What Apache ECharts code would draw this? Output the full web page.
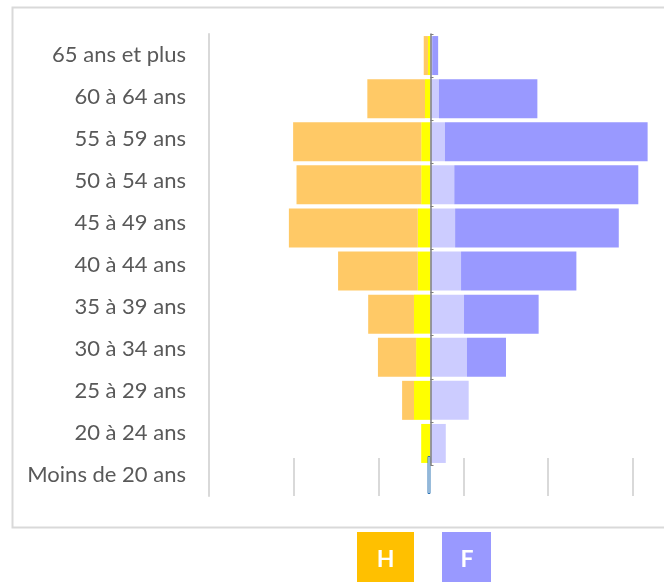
<!DOCTYPE html>
<html>
<head>
<meta charset="utf-8">
<title>Pyramide des âges</title>
<script src="https://cdn.jsdelivr.net/npm/echarts@6/dist/echarts.min.js"></script>
<style>
    html, body { margin: 0; padding: 0; background: #fff; }
    #chart { width: 664px; height: 582px; }
</style>
</head>
<body>
<div id="chart"></div>
<script>
// tranches d'âge (haut -> bas)
var ageLabels = ['65 ans et plus', '60 à 64 ans', '55 à 59 ans', '50 à 54 ans', '45 à 49 ans',
    '40 à 44 ans', '35 à 39 ans', '30 à 34 ans', '25 à 29 ans', '20 à 24 ans', 'Moins de 20 ans'];
var pyramidAges = ['65 ans et plus', '60 à 64 ans', '55 à 59 ans', '50 à 54 ans', '45 à 49 ans',
    '40 à 44 ans', '35 à 39 ans', '30 à 34 ans', '25 à 29 ans', '20 à 24 ans'];

// hommes : partie intérieure (jaune) et extérieure (orange)
var hInner = [0.3, 0.65, 1.1, 1.1, 1.5, 1.5, 1.95, 1.7, 1.95, 1.1];
var hOuter = [0.5, 6.8, 15.1, 14.7, 15.2, 9.4, 5.4, 4.5, 1.4, 0];
// femmes : partie intérieure (lavande) et extérieure (violet)
var fInner = [0.2, 1.0, 1.7, 2.8, 2.9, 3.6, 3.95, 4.3, 4.5, 1.8];
var fOuter = [0.7, 11.6, 23.9, 21.7, 19.3, 13.6, 8.8, 4.6, 0, 0];
// moins de 20 ans (presque rien)
var moinsDe20 = -0.35;
var legendNames = ['H', 'F'];

var chart = echarts.init(document.getElementById('chart'), null, { renderer: 'canvas' });

function neg(arr) {
    return arr.map(function (v) { return -v; });
}

var barStyle = {
    type: 'bar',
    xAxisIndex: 2,
    yAxisIndex: 1,
    barWidth: 39,
    barGap: '-100%'
};

function pyramidSerie(name, stack, data, color) {
    return echarts.util.extend({
        name: name,
        stack: stack,
        data: data,
        itemStyle: { color: color }
    }, barStyle);
}

var option = {
    animation: false,
    backgroundColor: '#fff',
    grid: [
        { left: 209, top: 34, width: 424, height: 462 },   // libellés + repères du bas
        { left: 209, top: 34, width: 451, height: 431 }    // pyramide
    ],
    xAxis: [
        { type: 'value', gridIndex: 0, min: -26.12, max: 23.88, show: false },
        {
            type: 'value', gridIndex: 0, min: 0, max: 5, interval: 1, position: 'bottom',
            axisLine: { show: false },
            axisLabel: { show: false },
            splitLine: { show: false },
            axisTick: { show: true, inside: true, length: 38, lineStyle: { color: '#d9d9d9', width: 2 } }
        },
        { type: 'value', gridIndex: 1, min: -26.12, max: 27.06, show: false }
    ],
    yAxis: [
        {
            type: 'category', gridIndex: 0, inverse: true, data: ageLabels,
            axisLine: { show: true, onZero: false, lineStyle: { color: '#d9d9d9', width: 2 } },
            axisTick: { show: false },
            splitLine: { show: false },
            axisLabel: { color: '#595959', fontSize: 22, fontFamily: 'Lato', margin: 23 }
        },
        {
            type: 'category', gridIndex: 1, inverse: true, data: pyramidAges,
            axisLine: { show: true, onZero: true, lineStyle: { color: '#7f7f7f', width: 1.5 } },
            axisTick: { show: true, inside: true, length: 3, lineStyle: { color: '#7f7f7f' } },
            axisLabel: { show: false },
            splitLine: { show: false },
            z: 5
        }
    ],
    series: [
        pyramidSerie('H int', 'H', neg(hInner), '#ffff00'),
        pyramidSerie('H ext', 'H', neg(hOuter), '#ffc966'),
        pyramidSerie('F int', 'F', fInner, '#ccccff'),
        pyramidSerie('F ext', 'F', fOuter, '#9999ff'),
        {
            type: 'bar',
            xAxisIndex: 0,
            yAxisIndex: 0,
            barWidth: 38,
            data: ageLabels.map(function (a) { return a === 'Moins de 20 ans' ? moinsDe20 : null; }),
            itemStyle: { color: '#ffffff', borderColor: '#2e75b6', borderWidth: 1 }
        }
    ],
    graphic: [
        {
            type: 'rect', left: 10, top: 5, z: -1,
            shape: { width: 653, height: 520 },
            style: { fill: 'none', stroke: '#d9d9d9', lineWidth: 2 }
        },
        { type: 'rect', left: 357, top: 532, shape: { width: 57, height: 50 }, style: { fill: '#ffc000' } },
        { type: 'rect', left: 442, top: 532, shape: { width: 49, height: 50 }, style: { fill: '#9999ff' } },
        {
            type: 'text', x: 385.5, y: 560, z: 10,
            style: { text: legendNames[0], fill: '#fff', font: 'bold 23px Lato', align: 'center', verticalAlign: 'middle' }
        },
        {
            type: 'text', x: 467, y: 560, z: 10,
            style: { text: legendNames[1], fill: '#fff', font: 'bold 23px Lato', align: 'center', verticalAlign: 'middle' }
        }
    ]
};

chart.setOption(option);
</script>
</body>
</html>
